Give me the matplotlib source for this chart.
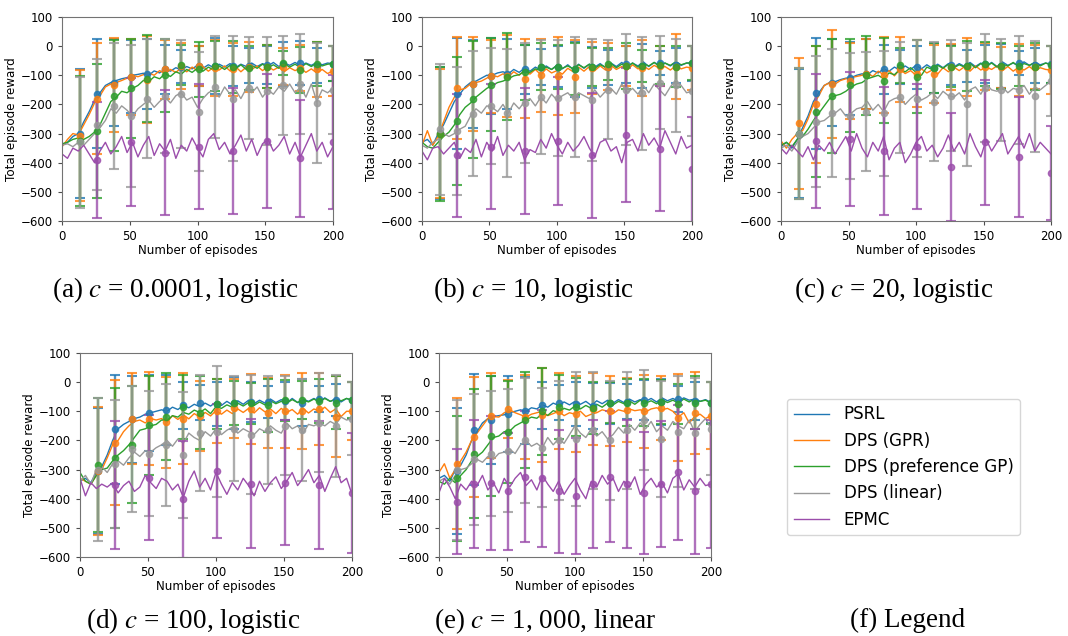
import matplotlib
matplotlib.use('Agg')
import matplotlib.pyplot as plt

plt.rcParams['font.family'] = 'DejaVu Sans'
plt.rcParams['mathtext.fontset'] = 'stix'

# x values of the mean curves and of the error-bar points
episodes = list(range(0, 201, 4))
mark_x = [13, 26, 38, 51, 63, 76, 88, 101, 113, 126, 138, 151, 163, 176, 188, 200]
mark_x_epmc = [26, 51, 76, 101, 126, 151, 176, 200]

labels = ['PSRL', 'DPS (GPR)', 'DPS (preference GP)', 'DPS (linear)', 'EPMC']
colors = ['#1f77b4', '#ff7f0e', '#2ca02c', '#999999', '#9b4dab']

# ---------------- (a) c = 0.0001, logistic
psrl_a = [-340, -330, -310, -300, -260, -225, -185, -160, -135, -125, -118, -112, -108, -100, -97, -93, -100, -85, -92, -78, -86, -74, -82, -70, -78, -66, -76, -64, -74, -62, -72, -60, -74, -62, -70, -58, -70, -60, -68, -56, -70, -58, -66, -56, -68, -58, -66, -56, -64, -58, -60]
gpr_a = [-345, -320, -300, -305, -270, -235, -195, -170, -140, -130, -125, -118, -110, -100, -105, -98, -92, -100, -84, -95, -80, -90, -75, -88, -72, -84, -70, -86, -72, -82, -68, -85, -70, -88, -72, -80, -68, -84, -70, -82, -72, -88, -74, -84, -76, -90, -78, -92, -80, -94, -85]
pgp_a = [-335, -330, -320, -315, -320, -310, -295, -270, -230, -190, -175, -155, -160, -145, -135, -118, -122, -105, -112, -95, -104, -88, -96, -80, -90, -76, -86, -72, -82, -68, -80, -66, -78, -64, -80, -66, -76, -62, -74, -64, -76, -60, -72, -62, -74, -60, -70, -58, -68, -62, -60]
lin_a = [-340, -335, -345, -330, -340, -320, -300, -280, -255, -215, -230, -205, -220, -240, -215, -200, -185, -210, -190, -175, -195, -170, -160, -185, -175, -210, -180, -160, -150, -175, -140, -165, -150, -180, -145, -160, -140, -175, -150, -165, -140, -155, -130, -160, -140, -175, -130, -190, -150, -160, -145]
epmc_a = [-370, -385, -350, -360, -340, -370, -400, -360, -330, -370, -345, -310, -365, -330, -380, -340, -310, -375, -335, -360, -320, -385, -340, -360, -315, -350, -380, -320, -300, -355, -330, -370, -340, -305, -360, -320, -375, -335, -320, -360, -340, -310, -370, -330, -380, -340, -300, -360, -330, -380, -345]
psrl_a_mk = [-300, -163, -125, -105, -95, -80, -70, -68, -68, -68, -68, -65, -62, -58, -68, -60]
gpr_a_mk = [-308, -180, -133, -105, -115, -80, -68, -68, -75, -80, -72, -70, -70, -75, -80, -85]
pgp_a_mk = [-325, -290, -170, -145, -112, -100, -65, -80, -68, -72, -75, -70, -58, -82, -62, -60]
lin_a_mk = [-330, -270, -205, -240, -180, -170, -165, -225, -140, -180, -145, -155, -135, -130, -195, -150]
epmc_a_mk = [-390, -330, -365, -345, -360, -325, -385, -330]
psrl_a_err = [220, 188, 150, 125, 120, 83, 58, 70, 95, 70, 60, 65, 75, 75, 60, 60]
gpr_a_err = [225, 190, 160, 130, 150, 100, 80, 70, 95, 90, 85, 75, 65, 80, 95, 85]
pgp_a_err = [222, 230, 190, 170, 150, 125, 70, 95, 85, 90, 75, 75, 40, 80, 75, 60]
lin_a_err = [225, 225, 215, 245, 205, 195, 185, 205, 175, 215, 175, 185, 170, 170, 205, 150]
epmc_a_err = [200, 220, 215, 215, 215, 230, 200, 230]

# ---------------- (b) c = 10, logistic
psrl_b = [-330, -320, -340, -300, -270, -230, -190, -165, -140, -125, -120, -110, -100, -100, -92, -88, -95, -80, -90, -76, -86, -72, -82, -68, -80, -66, -78, -64, -80, -62, -76, -62, -72, -60, -74, -58, -70, -56, -72, -58, -68, -54, -70, -56, -66, -58, -68, -54, -66, -58, -58]
gpr_b = [-340, -290, -340, -310, -260, -210, -175, -150, -145, -130, -125, -120, -110, -100, -105, -95, -104, -88, -100, -84, -96, -80, -98, -78, -92, -84, -96, -76, -88, -72, -86, -70, -84, -68, -82, -66, -80, -70, -82, -64, -78, -68, -80, -66, -76, -70, -82, -68, -78, -72, -75]
pgp_b = [-330, -345, -350, -330, -310, -295, -270, -235, -210, -195, -175, -160, -145, -135, -125, -120, -112, -102, -98, -86, -90, -78, -84, -72, -80, -66, -76, -68, -78, -64, -74, -62, -76, -64, -72, -60, -74, -62, -70, -58, -72, -60, -68, -56, -70, -58, -66, -54, -64, -58, -58]
lin_b = [-340, -350, -330, -320, -300, -310, -300, -285, -275, -240, -215, -230, -205, -210, -225, -200, -230, -195, -215, -190, -180, -205, -175, -195, -165, -185, -170, -160, -180, -160, -170, -180, -150, -175, -155, -145, -165, -130, -160, -145, -165, -135, -160, -130, -150, -170, -140, -115, -135, -160, -155]
epmc_b = [-360, -390, -350, -345, -370, -350, -330, -385, -350, -365, -320, -380, -330, -360, -310, -375, -340, -360, -330, -390, -355, -365, -320, -350, -300, -340, -370, -330, -360, -340, -310, -350, -380, -330, -320, -360, -345, -400, -330, -320, -360, -300, -340, -315, -350, -290, -330, -370, -310, -350, -340]
psrl_b_mk = [-298, -163, -130, -103, -95, -80, -72, -70, -80, -72, -72, -63, -68, -58, -65, -58]
gpr_b_mk = [-300, -145, -130, -103, -103, -112, -100, -103, -105, -75, -70, -68, -75, -68, -70, -75]
pgp_b_mk = [-300, -258, -183, -132, -105, -90, -70, -72, -78, -72, -60, -68, -68, -65, -70, -58]
lin_b_mk = [-285, -290, -232, -205, -230, -195, -175, -178, -175, -185, -150, -150, -162, -125, -135, -155]
epmc_b_mk = [-375, -345, -360, -325, -375, -305, -352, -422]
psrl_b_err = [225, 190, 150, 130, 120, 85, 62, 70, 95, 70, 60, 65, 75, 42, 60, 60]
gpr_b_err = [220, 175, 160, 125, 140, 135, 125, 135, 125, 90, 80, 70, 95, 70, 110, 75]
pgp_b_err = [230, 220, 200, 160, 150, 95, 80, 75, 90, 65, 55, 80, 55, 65, 70, 58]
lin_b_err = [225, 220, 215, 200, 220, 205, 195, 200, 205, 210, 170, 190, 195, 160, 160, 155]
epmc_b_err = [210, 215, 215, 220, 215, 230, 215, 180]

# ---------------- (c) c = 20, logistic
psrl_c = [-345, -330, -350, -320, -280, -240, -190, -160, -135, -125, -122, -115, -110, -108, -100, -95, -98, -84, -92, -78, -86, -72, -82, -68, -80, -66, -78, -64, -76, -62, -74, -60, -72, -60, -70, -56, -70, -58, -68, -56, -70, -54, -66, -58, -68, -54, -66, -56, -64, -58, -63]
gpr_c = [-325, -350, -320, -300, -290, -250, -200, -170, -135, -125, -130, -118, -112, -108, -104, -100, -92, -104, -86, -98, -84, -102, -80, -94, -84, -100, -78, -92, -82, -96, -74, -88, -72, -84, -70, -86, -68, -82, -72, -80, -68, -84, -70, -86, -72, -82, -70, -86, -74, -80, -82]
pgp_c = [-340, -330, -345, -320, -310, -285, -255, -230, -205, -180, -170, -165, -155, -140, -130, -125, -112, -106, -100, -112, -92, -98, -80, -88, -74, -90, -100, -72, -80, -66, -76, -62, -74, -64, -72, -60, -74, -60, -70, -58, -72, -62, -68, -56, -70, -60, -66, -56, -68, -58, -64]
lin_c = [-350, -340, -360, -330, -310, -300, -280, -260, -255, -240, -230, -215, -240, -230, -215, -210, -190, -220, -200, -225, -190, -180, -175, -200, -180, -165, -185, -175, -160, -180, -155, -170, -175, -160, -185, -150, -140, -165, -130, -150, -155, -140, -160, -145, -150, -135, -165, -140, -150, -135, -120]
epmc_c = [-350, -370, -340, -360, -380, -345, -390, -340, -360, -330, -370, -340, -310, -360, -300, -350, -380, -330, -360, -310, -390, -350, -330, -400, -370, -330, -310, -360, -340, -380, -350, -305, -360, -330, -370, -300, -345, -380, -320, -360, -330, -300, -370, -340, -310, -350, -300, -360, -330, -350, -370]
psrl_c_mk = [-300, -162, -125, -110, -95, -80, -72, -73, -75, -65, -68, -62, -68, -58, -65, -63]
gpr_c_mk = [-265, -200, -130, -120, -95, -100, -80, -95, -95, -72, -72, -70, -72, -82, -72, -82]
pgp_c_mk = [-300, -225, -170, -135, -100, -118, -65, -105, -75, -70, -68, -62, -68, -68, -70, -64]
lin_c_mk = [-300, -260, -230, -240, -225, -230, -175, -180, -190, -170, -200, -145, -150, -150, -172, -120]
epmc_c_mk = [-325, -320, -360, -345, -415, -330, -380, -435]
psrl_c_err = [220, 190, 148, 125, 120, 85, 58, 75, 85, 70, 55, 65, 75, 40, 60, 63]
gpr_c_err = [225, 200, 185, 130, 120, 130, 110, 115, 100, 80, 100, 80, 70, 90, 75, 82]
pgp_c_err = [225, 225, 195, 160, 135, 145, 60, 125, 85, 70, 85, 75, 80, 70, 80, 64]
lin_c_err = [225, 225, 220, 215, 205, 215, 190, 200, 205, 190, 210, 185, 175, 185, 190, 120]
epmc_c_err = [230, 230, 220, 215, 185, 215, 205, 160]

# ---------------- (d) c = 100, logistic
psrl_d = [-340, -330, -345, -310, -290, -250, -200, -160, -145, -135, -125, -120, -110, -105, -100, -95, -100, -86, -94, -80, -88, -76, -84, -72, -82, -68, -80, -66, -78, -64, -76, -62, -74, -62, -72, -58, -70, -60, -72, -56, -70, -58, -66, -56, -68, -54, -66, -58, -68, -56, -63]
gpr_d = [-330, -340, -350, -320, -300, -260, -215, -200, -170, -150, -135, -130, -140, -125, -130, -125, -138, -115, -128, -112, -126, -108, -120, -104, -116, -98, -110, -96, -108, -92, -104, -90, -106, -88, -102, -92, -108, -90, -104, -94, -110, -90, -106, -92, -100, -86, -104, -92, -118, -100, -100]
pgp_d = [-310, -340, -350, -320, -300, -295, -270, -250, -235, -215, -190, -165, -160, -150, -145, -130, -132, -115, -120, -104, -110, -96, -104, -92, -108, -84, -90, -78, -86, -72, -82, -70, -80, -68, -78, -64, -74, -66, -72, -60, -70, -62, -68, -58, -68, -56, -66, -58, -64, -56, -62]
lin_d = [-340, -320, -350, -300, -290, -310, -280, -270, -285, -260, -240, -255, -235, -240, -225, -215, -200, -220, -195, -210, -175, -190, -200, -170, -185, -160, -180, -165, -155, -175, -160, -170, -180, -160, -170, -150, -165, -175, -140, -160, -150, -175, -145, -150, -140, -150, -135, -145, -120, -130, -125]
epmc_d = [-330, -390, -345, -365, -350, -360, -345, -380, -355, -340, -375, -360, -320, -345, -365, -330, -340, -370, -350, -395, -340, -305, -360, -330, -370, -310, -350, -385, -345, -370, -330, -355, -390, -340, -375, -345, -325, -365, -340, -310, -355, -330, -300, -345, -320, -375, -330, -290, -345, -330, -385]
psrl_d_mk = [-305, -162, -128, -107, -97, -80, -70, -75, -72, -68, -68, -65, -70, -58, -62, -63]
gpr_d_mk = [-305, -208, -125, -125, -138, -125, -115, -100, -90, -92, -105, -100, -100, -92, -118, -100]
pgp_d_mk = [-285, -260, -215, -148, -118, -85, -105, -75, -72, -72, -80, -62, -62, -65, -70, -62]
lin_d_mk = [-300, -280, -230, -245, -215, -250, -175, -170, -160, -180, -165, -150, -165, -140, -150, -125]
epmc_d_mk = [-353, -328, -402, -305, -348, -345, -352, -380]
psrl_d_err = [215, 188, 150, 130, 120, 82, 60, 75, 90, 70, 55, 65, 80, 45, 55, 63]
gpr_d_err = [220, 215, 155, 160, 155, 155, 120, 110, 100, 120, 120, 125, 130, 125, 140, 100]
pgp_d_err = [230, 240, 200, 170, 150, 110, 125, 85, 75, 70, 90, 70, 65, 75, 90, 62]
lin_d_err = [245, 220, 215, 215, 210, 215, 200, 225, 180, 205, 185, 170, 175, 170, 175, 125]
epmc_d_err = [220, 215, 200, 230, 220, 215, 220, 205]

# ---------------- (e) c = 1,000, linear
psrl_e = [-330, -320, -340, -300, -285, -250, -200, -170, -140, -125, -118, -115, -112, -105, -100, -95, -100, -88, -92, -78, -86, -72, -80, -68, -78, -66, -76, -66, -80, -64, -74, -62, -72, -60, -70, -58, -68, -60, -66, -56, -68, -54, -64, -56, -66, -54, -62, -58, -66, -60, -70]
gpr_e = [-310, -280, -330, -300, -270, -240, -200, -175, -150, -125, -118, -120, -105, -95, -105, -112, -120, -110, -105, -100, -115, -108, -100, -115, -105, -110, -100, -118, -110, -105, -95, -100, -108, -95, -100, -92, -98, -95, -102, -92, -88, -95, -90, -100, -120, -105, -140, -118, -110, -125, -115]
pgp_e = [-340, -350, -330, -345, -320, -300, -270, -255, -240, -215, -190, -185, -170, -168, -150, -140, -130, -120, -124, -108, -114, -98, -104, -90, -96, -82, -92, -80, -90, -76, -86, -72, -78, -66, -74, -64, -76, -62, -72, -64, -74, -60, -70, -62, -72, -58, -68, -58, -66, -62, -72]
lin_e = [-340, -330, -350, -320, -300, -295, -280, -265, -275, -255, -265, -245, -240, -230, -245, -215, -200, -220, -210, -225, -190, -215, -195, -210, -180, -150, -175, -190, -160, -185, -170, -195, -180, -155, -175, -145, -165, -140, -160, -135, -170, -150, -165, -135, -150, -160, -130, -170, -145, -125, -160]
epmc_e = [-380, -330, -360, -400, -350, -370, -340, -355, -320, -370, -345, -380, -330, -360, -330, -310, -355, -335, -370, -320, -350, -375, -340, -385, -355, -330, -370, -400, -340, -360, -320, -350, -330, -375, -340, -360, -325, -385, -350, -330, -360, -345, -380, -330, -315, -370, -335, -360, -330, -355, -350]
psrl_e_mk = [-305, -163, -130, -110, -98, -80, -70, -75, -82, -72, -68, -62, -68, -58, -65, -70]
gpr_e_mk = [-280, -188, -115, -92, -120, -113, -100, -110, -92, -100, -95, -100, -88, -122, -105, -115]
pgp_e_mk = [-330, -245, -185, -170, -130, -100, -85, -85, -88, -70, -70, -70, -68, -75, -70, -72]
lin_e_mk = [-300, -265, -245, -235, -200, -225, -200, -195, -165, -200, -165, -130, -195, -170, -175, -160]
epmc_e_mk = [-410, -350, -345, -375, -325, -330, -375, -390, -350, -325, -350, -380, -350, -310, -375, -350]
psrl_e_err = [215, 190, 150, 130, 115, 80, 60, 75, 80, 70, 60, 68, 80, 45, 65, 70]
gpr_e_err = [225, 205, 145, 100, 145, 160, 130, 130, 125, 120, 110, 125, 110, 150, 140, 115]
pgp_e_err = [215, 220, 205, 175, 165, 150, 110, 100, 90, 70, 80, 80, 75, 70, 90, 72]
lin_e_err = [240, 225, 215, 210, 215, 205, 205, 230, 200, 205, 200, 170, 200, 190, 190, 160]
epmc_e_err = [180, 220, 230, 200, 225, 235, 210, 200, 220, 225, 220, 210, 215, 230, 215, 220]

panels = [
    ('(a) $c$ = 0.0001, logistic', [0.0581, 0.6525, 0.2537, 0.3208], (0.164, 0.544),
     [psrl_a, gpr_a, pgp_a, lin_a, epmc_a],
     [psrl_a_mk, gpr_a_mk, pgp_a_mk, lin_a_mk, epmc_a_mk],
     [psrl_a_err, gpr_a_err, pgp_a_err, lin_a_err, epmc_a_err], mark_x_epmc),
    ('(b) $c$ = 10, logistic', [0.3951, 0.6525, 0.2528, 0.3208], (0.500, 0.544),
     [psrl_b, gpr_b, pgp_b, lin_b, epmc_b],
     [psrl_b_mk, gpr_b_mk, pgp_b_mk, lin_b_mk, epmc_b_mk],
     [psrl_b_err, gpr_b_err, pgp_b_err, lin_b_err, epmc_b_err], mark_x_epmc),
    ('(c) $c$ = 20, logistic', [0.7313, 0.6525, 0.2528, 0.3208], (0.837, 0.544),
     [psrl_c, gpr_c, pgp_c, lin_c, epmc_c],
     [psrl_c_mk, gpr_c_mk, pgp_c_mk, lin_c_mk, epmc_c_mk],
     [psrl_c_err, gpr_c_err, pgp_c_err, lin_c_err, epmc_c_err], mark_x_epmc),
    ('(d) $c$ = 100, logistic', [0.0749, 0.1242, 0.2547, 0.3208], (0.181, 0.024),
     [psrl_d, gpr_d, pgp_d, lin_d, epmc_d],
     [psrl_d_mk, gpr_d_mk, pgp_d_mk, lin_d_mk, epmc_d_mk],
     [psrl_d_err, gpr_d_err, pgp_d_err, lin_d_err, epmc_d_err], mark_x_epmc),
    ('(e) $c$ = 1, 000, linear', [0.4110, 0.1242, 0.2547, 0.3208], (0.511, 0.024),
     [psrl_e, gpr_e, pgp_e, lin_e, epmc_e],
     [psrl_e_mk, gpr_e_mk, pgp_e_mk, lin_e_mk, epmc_e_mk],
     [psrl_e_err, gpr_e_err, pgp_e_err, lin_e_err, epmc_e_err], mark_x),
]

fig = plt.figure(figsize=(10.68, 6.36), dpi=100)

handles = []
for caption, pos, cpos, lines, marks, errs, ex in panels:
    ax = fig.add_axes(pos)
    handles = []
    for i in range(5):
        h, = ax.plot(episodes, lines[i], color=colors[i], lw=1.0)
        handles.append(h)
        xm = mark_x if i < 4 else ex
        ax.errorbar(xm, marks[i], yerr=errs[i], fmt='o', color=colors[i],
                    ms=4.5, capsize=3.5, elinewidth=1.7, capthick=1.5, alpha=0.8)
    ax.set_xlim(0, 200)
    ax.set_ylim(-600, 100)
    ax.set_xticks([0, 50, 100, 150, 200])
    ax.set_yticks(range(-600, 101, 100))
    ax.tick_params(labelsize=8.5, length=3, color='0.3')
    for sp in ax.spines.values():
        sp.set_color('0.45')
        sp.set_linewidth(0.8)
    ax.set_xlabel('Number of episodes', fontsize=8.6, labelpad=1)
    ax.set_ylabel('Total episode reward', fontsize=8.6, labelpad=2)
    fig.text(cpos[0], cpos[1], caption, ha='center', va='center', fontsize=19.5,
             family='Liberation Serif')

fig.legend(handles, labels, loc='center', bbox_to_anchor=(0.846, 0.2657),
           fontsize=12, handlelength=2.1, handletextpad=0.9, edgecolor='0.8',
           fancybox=True)
fig.text(0.850, 0.024, '(f) Legend', ha='center', va='center', fontsize=19.5,
         family='Liberation Serif')

fig.savefig('out.png', dpi=100)
